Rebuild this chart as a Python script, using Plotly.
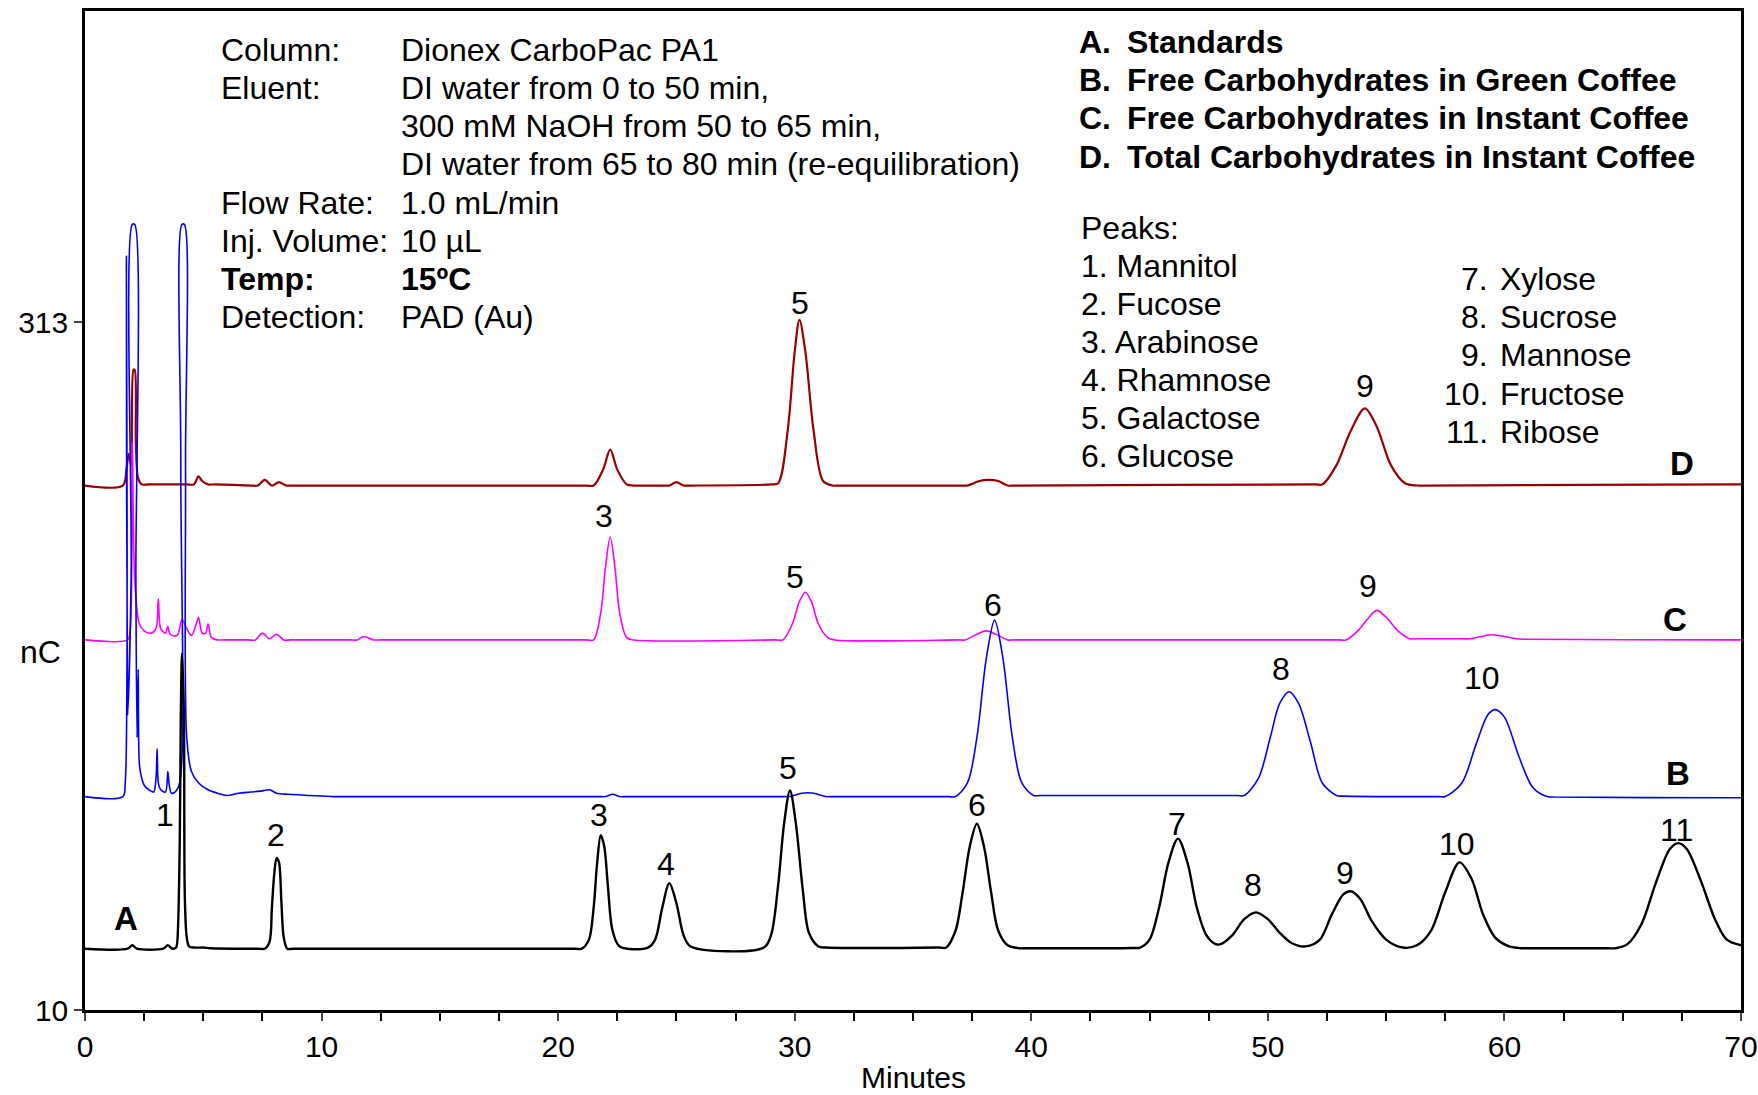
import plotly.graph_objects as go

# ---------------- data ----------------
# Trace A: Standards (black)
a_time = [0, 1.8, 2.0, 2.2, 3.3, 3.5, 3.7, 3.85, 3.9, 4.0, 4.05, 4.1, 4.18, 4.22, 4.3, 4.4, 4.6, 5.0, 5.3,
          7.3, 7.6, 7.8, 7.9, 8.0, 8.1, 8.2, 8.3, 8.4, 8.55, 8.8,
          20.7, 21.0, 21.3, 21.5, 21.65, 21.8, 21.95, 22.1, 22.3, 22.6, 23.8,
          24.1, 24.4, 24.7, 25.0, 25.3, 25.6, 28.7,
          29.0, 29.3, 29.55, 29.8, 30.05, 30.35, 30.6, 31.0, 31.3, 36.1, 36.4,
          36.8, 37.1, 37.4, 37.7, 38.0, 38.3, 38.6, 39.0, 39.5, 39.8, 44.3, 44.6,
          45.0, 45.4, 45.8, 46.2, 46.6, 47.0, 47.4, 47.8, 48.0,
          48.5, 49.0, 49.5, 50.0, 50.5, 51.0, 51.6,
          52.2, 52.7, 53.2, 53.5, 53.9, 54.4, 55.0, 55.7,
          56.3, 56.9, 57.5, 58.1, 58.6, 59.1, 59.6, 60.2, 60.7, 61.0, 64.4, 64.7,
          65.2, 65.8, 66.4, 67.0, 67.35, 67.7, 68.3, 68.9, 69.4, 70]
a_nc = [37, 37, 38.5, 37, 37, 38.5, 37, 37.5, 40, 80, 140, 167, 140, 60, 42, 38, 37.5, 37.5, 37.2,
        37, 37, 40, 55, 70, 77, 75, 58, 42, 37, 37,
        37, 37, 41, 55, 75, 87, 82, 65, 45, 38, 37.5,
        41, 55, 65.8, 57, 43, 38, 37.5,
        43, 65, 92, 106.7, 92, 62, 44, 38, 37.5, 37.5, 37.5,
        45, 62, 82, 92, 82, 62, 45, 38.5, 37.2, 37.2, 37.3, 37.5,
        41, 55, 75, 85.5, 75, 55, 43, 39, 39,
        43, 50, 53, 50, 44, 39.5, 38,
        41, 52, 61, 62.3, 59, 49, 41, 37.5,
        38.5, 45, 62, 75, 68, 52, 42, 38, 37.2, 37.2, 37.2, 37.2,
        39, 48, 66, 81, 83.5, 81, 67, 50, 41, 38.5]

# Trace B: Free carbohydrates in green coffee (blue)
b_time = [0, 1.6, 1.7, 1.75, 1.8, 1.95, 2.0, 2.1, 2.15, 2.2, 2.25, 2.3, 2.4, 2.5, 2.7, 2.9,
          3.0, 3.05, 3.1, 3.2, 3.4, 3.5, 3.55, 3.65, 3.8, 4.0, 4.05, 4.1, 4.2, 4.25, 4.3,
          4.5, 4.8, 5.2, 5.6, 6.0, 6.5, 7.0, 7.5, 7.8, 8.1, 8.6, 9.5, 10.5, 10.8,
          21.7, 22.0, 22.3, 22.6, 22.9, 29.5, 29.8, 30.3, 30.8, 31.3, 31.6, 36.5, 36.8,
          37.3, 37.7, 38.1, 38.45, 38.8, 39.2, 39.6, 40.1, 40.4, 48.7, 49.0,
          49.6, 50.1, 50.5, 50.9, 51.3, 51.8, 52.3, 52.9, 53.2, 57.2, 57.5,
          58.2, 58.8, 59.3, 59.6, 60.0, 60.6, 61.2, 61.8, 62.1, 69.7, 70]
b_nc = [104, 104, 110, 342, 140, 200, 356, 356, 200, 130, 160, 118, 112, 109, 107, 106,
        112, 125, 110, 107, 106, 115, 110, 105.5, 106, 110, 250, 356, 356, 250, 130,
        115, 110, 107, 105.5, 104.5, 105.5, 106, 106.5, 107, 105.5, 105, 104.5, 104, 104,
        104, 104, 105, 104, 104, 104, 104, 105.5, 105.5, 104, 104, 104, 104,
        110, 130, 165, 181.7, 165, 130, 110, 104.5, 104.5, 104.5, 104.5,
        112, 130, 145, 150.2, 145, 128, 110, 104.5, 104.2, 104, 104,
        110, 127, 140, 142.3, 139, 122, 108, 104, 103.8, 103.5, 103.5]

# Trace C: Free carbohydrates in instant coffee (magenta)
c_time = [0, 1.8, 1.9, 2.0, 2.1, 2.3, 2.5, 2.8, 3.0, 3.1, 3.2, 3.4, 3.5, 3.6, 3.9, 4.1, 4.3,
          4.5, 4.7, 4.8, 4.95, 5.1, 5.2, 5.35, 5.6, 5.9, 6.9, 7.2, 7.5, 7.8, 8.1, 8.4, 8.7,
          11.2, 11.5, 11.8, 12.2, 12.5,
          21.2, 21.5, 21.8, 22.0, 22.2, 22.4, 22.6, 22.9, 23.2, 29.2, 29.5,
          29.9, 30.2, 30.45, 30.7, 31.0, 31.4, 31.7, 36.9, 37.2, 37.7, 38.1, 38.5, 39.0, 39.3,
          53.0, 53.3, 53.8, 54.2, 54.6, 55.0, 55.5, 56.0, 56.3, 58.2, 58.5, 59.5, 60.5, 60.8, 69.7, 70]
c_nc = [173, 173, 176, 260, 200, 180, 177, 176, 178, 191, 178, 176, 179, 175.5, 175, 182, 178,
        175, 180, 183, 176, 176, 180, 174, 173, 173, 173, 173, 176, 173.5, 175.5, 173, 173,
        173, 173, 174.5, 173, 173,
        173, 173, 185, 205, 218.3, 205, 185, 174, 173, 173, 173,
        180, 190, 194, 190, 180, 174, 173, 173, 173, 175.5, 177, 175.5, 173, 173,
        173, 173, 177, 182, 186, 183, 177, 173.5, 173.5, 173.5, 173.5, 175.3, 173.5, 173.3, 173, 173]

# Trace D: Total carbohydrates in instant coffee (dark red)
d_time = [0, 1.6, 1.75, 1.85, 1.95, 2.05, 2.1, 2.15, 2.25, 2.4, 2.7, 4.3, 4.6, 4.8, 4.95, 5.2, 5.5,
          7.0, 7.3, 7.6, 7.9, 8.2, 8.5, 8.8, 21.2, 21.5, 21.9, 22.2, 22.5, 22.9, 23.2,
          24.4, 24.7, 25.0, 25.3, 25.6, 29.0, 29.3, 29.7, 30.0, 30.2, 30.45, 30.8, 31.2, 31.6, 31.9,
          37.0, 37.3, 37.8, 38.2, 38.6, 39.0, 39.3,
          52.0, 52.3, 52.9, 53.5, 54.1, 54.6, 55.2, 55.8, 56.3, 56.6, 69.7, 70]
d_nc = [241, 241, 248, 255, 250, 292, 292, 260, 244, 241.5, 241.5, 241.5, 241.5, 245, 243, 241.5, 241.5,
        241, 241, 243.5, 241, 242.5, 241, 241, 241, 241, 248, 256.8, 248, 241.5, 241,
        241, 241, 242.5, 241, 241, 241.5, 242, 265, 300, 314, 300, 265, 243, 241, 241,
        241, 241, 243, 243.5, 243, 241, 241,
        241.5, 241.5, 250, 265, 275, 267, 250, 242, 241, 241, 241.5, 241.5]

# Peak labels: (time, nC, text)
a_labels = [(3.38, 95.7, "1"), (8.08, 87.0, "2"), (21.73, 96.0, "3"), (24.58, 74.2, "4"),
            (29.7, 116.8, "5"), (37.71, 100.5, "6"), (46.16, 92.1, "7"), (49.38, 64.9, "8"),
            (53.27, 70.4, "9"), (58.01, 83.2, "10"), (67.26, 89.4, "11")]
b_labels = [(38.38, 188.4, "6"), (50.57, 160.2, "8"), (59.05, 156.3, "10")]
c_labels = [(21.92, 227.6, "3"), (30.03, 200.7, "5"), (54.22, 196.8, "9")]
d_labels = [(30.22, 321.6, "5"), (54.12, 285.0, "9")]
trace_letters = [(1.72, 50.3, "A"), (67.35, 114.1, "B"), (67.21, 182.2, "C"), (67.5, 250.6, "D")]

cond_keys = ["Column:", "Eluent:", "", "", "Flow Rate:", "Inj. Volume:", "<b>Temp:</b>", "Detection:"]
cond_vals = ["Dionex CarboPac PA1", "DI water from 0 to 50 min,", "300 mM NaOH from 50 to 65 min,",
             "DI water from 65 to 80 min (re-equilibration)", "1.0 mL/min", "10 µL",
             "<b>15ºC</b>", "PAD (Au)"]
sample_letters = ["A.", "B.", "C.", "D."]
sample_names = ["Standards", "Free Carbohydrates in Green Coffee",
                "Free Carbohydrates in Instant Coffee", "Total Carbohydrates in Instant Coffee"]
peaks_left = ["1. Mannitol", "2. Fucose", "3. Arabinose", "4. Rhamnose", "5. Galactose", "6. Glucose"]
peaks_right_num = ["7.", "8.", "9.", "10.", "11."]
peaks_right_name = ["Xylose", "Sucrose", "Mannose", "Fructose", "Ribose"]

x_ticks = [0, 10, 20, 30, 40, 50, 60, 70]
y_ticks = [10, 313]

# ---------------- figure ----------------
FONT = "Arial, Liberation Sans, sans-serif"
fig = go.Figure()
spl = dict(shape="spline", smoothing=0.9)
fig.add_trace(go.Scatter(x=d_time, y=d_nc, mode="lines", line=dict(color="#990000", width=2.2, **spl)))
fig.add_trace(go.Scatter(x=c_time, y=c_nc, mode="lines", line=dict(color="#FF00FF", width=1.6, **spl)))
fig.add_trace(go.Scatter(x=b_time, y=b_nc, mode="lines", line=dict(color="#0000FF", width=1.6, **spl)))
fig.add_trace(go.Scatter(x=a_time, y=a_nc, mode="lines", line=dict(color="#000000", width=2.4, **spl)))

ann = []
fs = 32
for lab in a_labels + b_labels + c_labels + d_labels:
    ann.append(dict(x=lab[0], y=lab[1], text=lab[2], showarrow=False, font=dict(size=fs)))
for lab in trace_letters:
    ann.append(dict(x=lab[0], y=lab[1], text="<b>%s</b>" % lab[2], showarrow=False, font=dict(size=33)))

cond_y = [432.9, 416.3, 399.4, 382.7, 365.6, 348.8, 332.0, 315.1]
for k, v, y in zip(cond_keys, cond_vals, cond_y):
    if k:
        ann.append(dict(x=5.68, y=y, text=k, showarrow=False, xanchor="left", font=dict(size=fs)))
    ann.append(dict(x=13.27, y=y, text=v, showarrow=False, xanchor="left", font=dict(size=fs)))

samp_y = [436.2, 419.5, 402.7, 385.9]
for l, n, y in zip(sample_letters, sample_names, samp_y):
    ann.append(dict(x=41.92, y=y, text="<b>%s</b>" % l, showarrow=False, xanchor="left", font=dict(size=fs)))
    ann.append(dict(x=43.96, y=y, text="<b>%s</b>" % n, showarrow=False, xanchor="left", font=dict(size=fs)))

ann.append(dict(x=42.02, y=354.6, text="Peaks:", showarrow=False, xanchor="left", font=dict(size=fs)))
pl_y = [337.8, 321.0, 304.2, 287.4, 270.6, 253.8]
for t, y in zip(peaks_left, pl_y):
    ann.append(dict(x=42.02, y=y, text=t, showarrow=False, xanchor="left", font=dict(size=fs)))
pr_y = [332.0, 315.3, 298.5, 281.2, 264.4]
for num, name, y in zip(peaks_right_num, peaks_right_name, pr_y):
    ann.append(dict(x=59.40, y=y, text=num, showarrow=False, xanchor="right", font=dict(size=fs)))
    ann.append(dict(x=59.71, y=y, text=name, showarrow=False, xanchor="left", font=dict(size=fs)))

ann.append(dict(x=-0.0135, xref="paper", y=167.5, text="nC", showarrow=False, xanchor="right", font=dict(size=fs)))
ann.append(dict(x=0.5, xref="paper", y=-0.068, yref="paper", text="Minutes", showarrow=False,
                yanchor="middle", font=dict(size=30)))

fig.update_layout(
    width=1758, height=1095,
    margin=dict(l=85, r=17, t=11, b=85, autoexpand=False),
    paper_bgcolor="white", plot_bgcolor="white",
    showlegend=False,
    font=dict(family=FONT, size=fs, color="black"),
    annotations=ann,
    xaxis=dict(range=[0, 70], tickvals=x_ticks, ticks="outside", ticklen=8, tickwidth=2,
               minor=dict(dtick=2.5, ticks="outside", ticklen=8, tickwidth=1.5, tickcolor="black"),
               showgrid=False, zeroline=False, showline=True, linecolor="black", linewidth=2.5,
               mirror=True, tickfont=dict(size=30), automargin=False, ticklabeloverflow="allow"),
    yaxis=dict(range=[10, 450], tickvals=y_ticks, ticks="outside", ticklen=8, tickwidth=2,
               showgrid=False, zeroline=False, showline=True, linecolor="black", linewidth=2.5,
               mirror=True, tickfont=dict(size=30), automargin=False, ticklabeloverflow="allow"),
)

fig.write_html("out.html")
